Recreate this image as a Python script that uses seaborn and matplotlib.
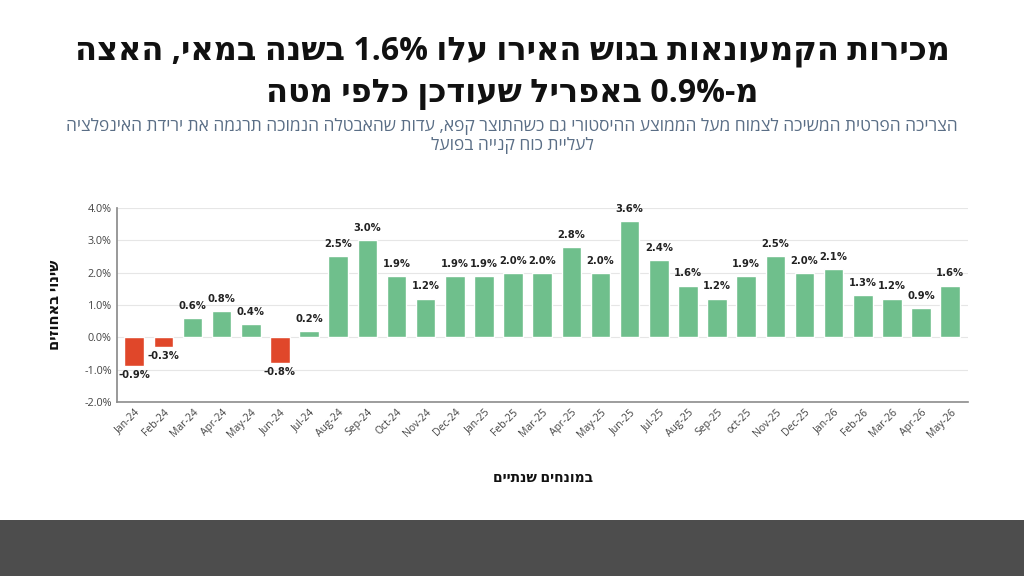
import re
import matplotlib
matplotlib.use("Agg")
import matplotlib.pyplot as plt
import seaborn as sns
import pandas as pd

months = ["Jan-24", "Feb-24", "Mar-24", "Apr-24", "May-24", "Jun-24", "Jul-24", "Aug-24",
          "Sep-24", "Oct-24", "Nov-24", "Dec-24", "Jan-25", "Feb-25", "Mar-25", "Apr-25",
          "May-25", "Jun-25", "Jul-25", "Aug-25", "Sep-25", "oct-25", "Nov-25", "Dec-25",
          "Jan-26", "Feb-26", "Mar-26", "Apr-26", "May-26"]
yoy_change = [-0.9, -0.3, 0.6, 0.8, 0.4, -0.8, 0.2, 2.5, 3.0, 1.9, 1.2, 1.9, 1.9, 2.0,
              2.0, 2.8, 2.0, 3.6, 2.4, 1.6, 1.2, 1.9, 2.5, 2.0, 2.1, 1.3, 1.2, 0.9, 1.6]
y_ticks = [-2, -1, 0, 1, 2, 3, 4]

title_lines = ["מכירות הקמעונאות בגוש האירו עלו 1.6% בשנה במאי, האצה",
               "מ-0.9% באפריל שעודכן כלפי מטה"]
subtitle_lines = ["הצריכה הפרטית המשיכה לצמוח מעל הממוצע ההיסטורי גם כשהתוצר קפא, עדות שהאבטלה הנמוכה תרגמה את ירידת האינפלציה",
                  "לעליית כוח קנייה בפועל"]
y_label = "שינוי באחוזים"
x_label = "במונחים שנתיים"

GREEN = "#6fbf8c"
RED = "#e0472a"


def rtl(text):
    # crude visual ordering: flip the string, then flip number runs back
    flipped = text[::-1]
    return re.sub(r"[%\d.]*\d[%\d.]*", lambda m: m.group(0)[::-1], flipped)


df = pd.DataFrame({"month": months, "change": yoy_change})
df["sign"] = ["neg" if v < 0 else "pos" for v in df["change"]]

sns.set_theme(style="white")
plt.rcParams["font.family"] = ["Open Sans", "DejaVu Sans"]

fig = plt.figure(figsize=(10.24, 5.76), dpi=100)
ax = fig.add_axes([0.114, 0.302, 0.831, 0.337])

sns.barplot(data=df, x="month", y="change", hue="sign", palette={"pos": GREEN, "neg": RED},
            width=0.67, legend=False, ax=ax, saturation=1)

# value labels: above positive bars, below negative ones
for i, v in enumerate(yoy_change):
    off = 0.22 if v >= 0 else -0.12
    ax.text(i, v + off, f"{v:.1f}%", ha="center", va="bottom" if v >= 0 else "top",
            fontsize=7.2, fontweight="bold", color="#222222", family=["DejaVu Sans"])

ax.set_ylim(-2, 4)
ax.set_xlim(-0.6, len(months) - 0.4)
ax.set_yticks(y_ticks)
ax.set_yticklabels([f"{t:.1f}%" for t in y_ticks], fontsize=7.8, color="#444444")
ax.tick_params(axis="x", labelrotation=45, labelsize=7.5, colors="#444444", length=0)
ax.tick_params(axis="y", length=0)
for lbl in ax.get_xticklabels():
    lbl.set_ha("right")
    lbl.set_rotation_mode("anchor")
ax.grid(axis="y", color="#e6e6e6", linewidth=0.8)
ax.set_axisbelow(True)
for s in ["top", "right"]:
    ax.spines[s].set_visible(False)
ax.spines["left"].set_color("#8c8c8c")
ax.spines["bottom"].set_color("#8c8c8c")
ax.spines["bottom"].set_linewidth(1.2)
ax.set_xlabel("")
ax.set_ylabel("")

fig.text(0.054, 0.47, rtl(y_label), rotation=90, ha="center", va="center",
         fontsize=10.5, fontweight="bold", color="#111111")
fig.text(0.53, 0.17, rtl(x_label), ha="center", va="center",
         fontsize=10, fontweight="bold", color="#111111")

fig.text(0.5, 0.912, rtl(title_lines[0]), ha="center", va="center",
         fontsize=23, fontweight="bold", color="#111111")
fig.text(0.5, 0.838, rtl(title_lines[1]), ha="center", va="center",
         fontsize=23, fontweight="bold", color="#111111")
fig.text(0.5, 0.78, rtl(subtitle_lines[0]), ha="center", va="center",
         fontsize=12.5, color="#5a6e86")
fig.text(0.5, 0.747, rtl(subtitle_lines[1]), ha="center", va="center",
         fontsize=12.5, color="#5a6e86")

# dark footer band
fig.patches.append(plt.Rectangle((0, 0), 1, 0.098, transform=fig.transFigure,
                                 facecolor="#4d4d4d", edgecolor="none", zorder=0))

fig.savefig("out.png", dpi=100)
